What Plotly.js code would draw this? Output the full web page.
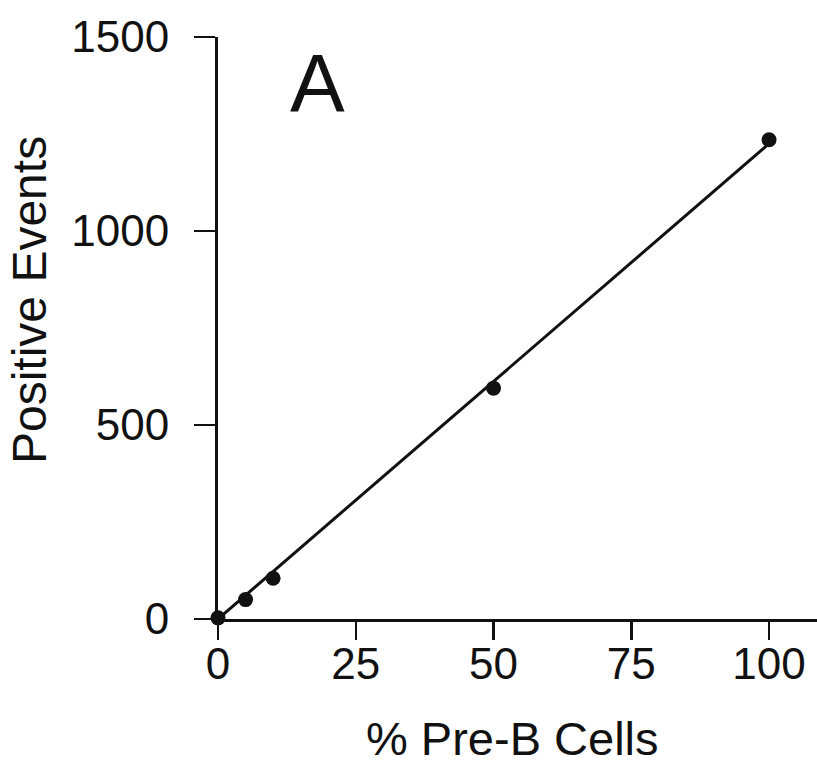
<!DOCTYPE html>
<html>
<head>
<meta charset="utf-8">
<script src="https://cdn.plot.ly/plotly-3.0.1.min.js"></script>
<style>html,body{margin:0;padding:0;background:#fff;}#chart{width:817px;height:769px;}</style>
</head>
<body>
<div id="chart"></div>
<script>
// Data
const pctPreB = [0, 5, 10, 50, 100];
const positiveEvents = [3, 50, 105, 595, 1235];
const fitX = [0, 100];
const fitY = [0, 1225];
const xTicks = [0, 25, 50, 75, 100];
const yTicks = [0, 500, 1000, 1500];
const panelLabel = 'A';
const xTitle = '% Pre-B Cells';
const yTitle = 'Positive Events';

const FONT = 'Liberation Sans, Arial, Helvetica, sans-serif';

const traces = [
  {x: fitX, y: fitY, mode: 'lines', type: 'scatter',
   line: {color: '#111', width: 3}, cliponaxis: false, hoverinfo: 'skip'},
  {x: pctPreB, y: positiveEvents, mode: 'markers', type: 'scatter',
   marker: {color: '#111', size: 15}, cliponaxis: false}
];

const layout = {
  width: 817, height: 769,
  margin: {l: 218, r: 0, t: 37, b: 150, pad: 0},
  paper_bgcolor: '#fff', plot_bgcolor: '#fff',
  showlegend: false,
  font: {family: FONT, color: '#111'},
  xaxis: {
    range: [0, 108.7], tickvals: xTicks, ticktext: xTicks.map(String),
    showgrid: false, zeroline: false, showline: true, linecolor: '#111', linewidth: 3,
    ticks: 'outside', ticklen: 18, tickwidth: 2.5, tickcolor: '#111',
    tickfont: {size: 44, family: FONT, color: '#111'},
    ticklabelstandoff: -14,
    automargin: false
  },
  yaxis: {
    range: [0, 1500], tickvals: yTicks, ticktext: yTicks.map(String),
    showgrid: false, zeroline: false, showline: true, linecolor: '#111', linewidth: 3,
    ticks: 'outside', ticklen: 21, tickwidth: 2.5, tickcolor: '#111',
    tickfont: {size: 44, family: FONT, color: '#111'},
    ticklabelstandoff: 16,
    automargin: false
  },
  annotations: [
    {text: panelLabel, x: 18.1, y: 1383, xref: 'x', yref: 'y',
     xanchor: 'center', yanchor: 'middle', showarrow: false,
     font: {size: 82, family: FONT, color: '#111'}},
    {text: yTitle, x: 30, y: 300, xref: 'paper', yref: 'paper', textangle: -90,
     xanchor: 'center', yanchor: 'middle', showarrow: false,
     font: {size: 48, family: FONT, color: '#111'}},
    {text: xTitle, x: 512, y: 738, xref: 'paper', yref: 'paper',
     xanchor: 'center', yanchor: 'middle', showarrow: false,
     font: {size: 47, family: FONT, color: '#111'}}
  ]
};
// convert title annotation pixel positions to paper fractions
(function(){
  const pw = 817 - 218 - 0, ph = 769 - 37 - 150;
  for (const a of layout.annotations.slice(1)) {
    a.x = (a.x - 218) / pw;
    a.y = (769 - 150 - a.y) / ph;
  }
})();

Plotly.newPlot('chart', traces, layout, {displayModeBar: false, staticPlot: true});
</script>
</body>
</html>
